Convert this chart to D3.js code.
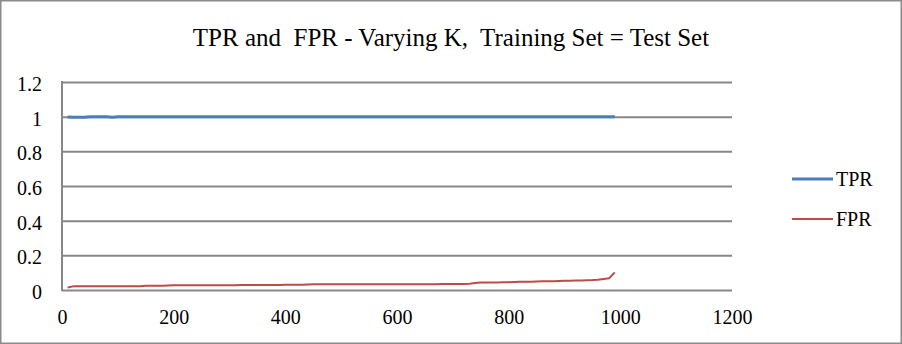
<!DOCTYPE html>
<html>
<head>
<meta charset="utf-8">
<script src="https://cdn.jsdelivr.net/npm/d3@7"></script>
<style>
  html, body { margin: 0; padding: 0; background: #fff; }
  svg { display: block; }
  text { font-family: "Liberation Serif", "DejaVu Serif", serif; fill: #000; white-space: pre; }
</style>
</head>
<body>
<svg id="chart" width="902" height="344"></svg>
<script>
// K values (number of neighbours)
const kValues = [
  10, 20, 30, 40, 50, 60, 70, 80, 90, 100,
  110, 120, 130, 140, 150, 160, 170, 180, 190, 200,
  210, 220, 230, 240, 250, 260, 270, 280, 290, 300,
  310, 320, 330, 340, 350, 360, 370, 380, 390, 400,
  410, 420, 430, 440, 450, 460, 470, 480, 490, 500,
  510, 520, 530, 540, 550, 560, 570, 580, 590, 600,
  610, 620, 630, 640, 650, 660, 670, 680, 690, 700,
  710, 720, 730, 740, 750, 760, 770, 780, 790, 800,
  810, 820, 830, 840, 850, 860, 870, 880, 890, 900,
  910, 920, 930, 940, 950, 960, 970, 980, 990
];

// True positive rate per K
const tprValues = [
  0.998, 0.996, 0.996, 0.997, 0.999, 1, 1, 0.999, 0.997, 0.999,
  1, 1, 1, 1, 1, 1, 1, 1, 1, 1,
  1, 1, 1, 1, 1, 1, 1, 1, 1, 1,
  1, 1, 1, 1, 1, 1, 1, 1, 1, 1,
  1, 1, 1, 1, 1, 1, 1, 1, 1, 1,
  1, 1, 1, 1, 1, 1, 1, 1, 1, 1,
  1, 1, 1, 1, 1, 1, 1, 1, 1, 1,
  1, 1, 1, 1, 1, 1, 1, 1, 1, 1,
  1, 1, 1, 1, 1, 1, 1, 1, 1, 1,
  1, 1, 1, 1, 1, 1, 1, 1, 1
];

// False positive rate per K
const fprValues = [
  0.014, 0.021, 0.021, 0.021, 0.021, 0.021, 0.021, 0.021, 0.021, 0.022,
  0.022, 0.022, 0.022, 0.022, 0.025, 0.025, 0.025, 0.025, 0.026, 0.027,
  0.027, 0.027, 0.027, 0.027, 0.027, 0.027, 0.027, 0.027, 0.027, 0.027,
  0.028, 0.029, 0.029, 0.029, 0.029, 0.029, 0.029, 0.029, 0.029, 0.030,
  0.030, 0.030, 0.031, 0.032, 0.033, 0.033, 0.033, 0.033, 0.033, 0.033,
  0.033, 0.033, 0.033, 0.033, 0.033, 0.033, 0.033, 0.033, 0.033, 0.033,
  0.033, 0.033, 0.033, 0.033, 0.033, 0.033, 0.033, 0.034, 0.034, 0.035,
  0.035, 0.035, 0.036, 0.041, 0.043, 0.043, 0.043, 0.043, 0.044, 0.045,
  0.046, 0.047, 0.048, 0.048, 0.049, 0.050, 0.050, 0.051, 0.052, 0.053,
  0.054, 0.055, 0.055, 0.056, 0.057, 0.059, 0.064, 0.068, 0.102
];

const xTicks = [0, 200, 400, 600, 800, 1000, 1200];
const yTicks = [0, 0.2, 0.4, 0.6, 0.8, 1, 1.2];

const seriesNames = ["TPR", "FPR"];
const seriesColors = ["#4a7ebb", "#be4b48"];
const seriesWidths = [3, 2];
const seriesValues = [tprValues, fprValues];

const svg = d3.select("#chart");
const W = 902, H = 344;

// outer frame
svg.append("rect")
  .attr("x", 0.75).attr("y", 0.75)
  .attr("width", W - 1.5).attr("height", H - 1.5)
  .attr("fill", "#fff")
  .attr("stroke", "#8a8a8a")
  .attr("stroke-width", 1.5);

const plot = { left: 62, right: 732, top: 82, bottom: 290 };

const x = d3.scaleLinear().domain([0, 1200]).range([plot.left, plot.right]);
const y = d3.scaleLinear().domain([0, 1.2]).range([plot.bottom, plot.top]);

// title
svg.append("text")
  .attr("x", 451).attr("y", 46)
  .attr("text-anchor", "middle")
  .attr("font-size", 25)
  .text("TPR and  FPR - Varying K,  Training Set = Test Set");

// horizontal gridlines via the y axis
const yAxis = d3.axisLeft(y)
  .tickValues(yTicks)
  .tickSize(-(plot.right - plot.left))
  .tickPadding(20)
  .tickFormat(d3.format("~g"));

const gy = svg.append("g")
  .attr("transform", `translate(${plot.left},0)`)
  .call(yAxis);
gy.select(".domain").remove();
gy.selectAll(".tick line")
  .attr("stroke", "#878787")
  .attr("stroke-width", 2);
gy.selectAll(".tick text")
  .attr("font-family", "Liberation Serif, serif")
  .attr("font-size", 20)
  .attr("dy", "0.42em")
  .attr("fill", "#000");

// vertical axis line
svg.append("line")
  .attr("x1", plot.left).attr("x2", plot.left)
  .attr("y1", y(1.2) - 1).attr("y2", y(0) + 1)
  .attr("stroke", "#878787")
  .attr("stroke-width", 2);

// x axis labels
const xAxis = d3.axisBottom(x)
  .tickValues(xTicks)
  .tickSize(0)
  .tickPadding(20)
  .tickFormat(d3.format("d"));

const gx = svg.append("g")
  .attr("transform", `translate(0,${plot.bottom})`)
  .call(xAxis);
gx.select(".domain").remove();
gx.selectAll(".tick text")
  .attr("font-family", "Liberation Serif, serif")
  .attr("font-size", 20)
  .attr("fill", "#000");

// series lines
const line = d3.line()
  .x(d => x(d[0]))
  .y(d => y(d[1]));

seriesValues.forEach((vals, i) => {
  const pts = kValues.map((k, j) => [k, vals[j]]);
  svg.append("path")
    .datum(pts)
    .attr("fill", "none")
    .attr("stroke", seriesColors[i])
    .attr("stroke-width", seriesWidths[i])
    .attr("stroke-linejoin", "round")
    .attr("d", line);
});

// legend
const legend = svg.append("g").attr("transform", "translate(792,179)");
seriesNames.forEach((name, i) => {
  const g = legend.append("g").attr("transform", `translate(0,${i * 40})`);
  g.append("line")
    .attr("x1", 0).attr("x2", 41)
    .attr("y1", 0).attr("y2", 0)
    .attr("stroke", seriesColors[i])
    .attr("stroke-width", seriesWidths[i]);
  g.append("text")
    .attr("x", 44).attr("y", 7)
    .attr("font-size", 20)
    .text(name);
});
</script>
</body>
</html>
